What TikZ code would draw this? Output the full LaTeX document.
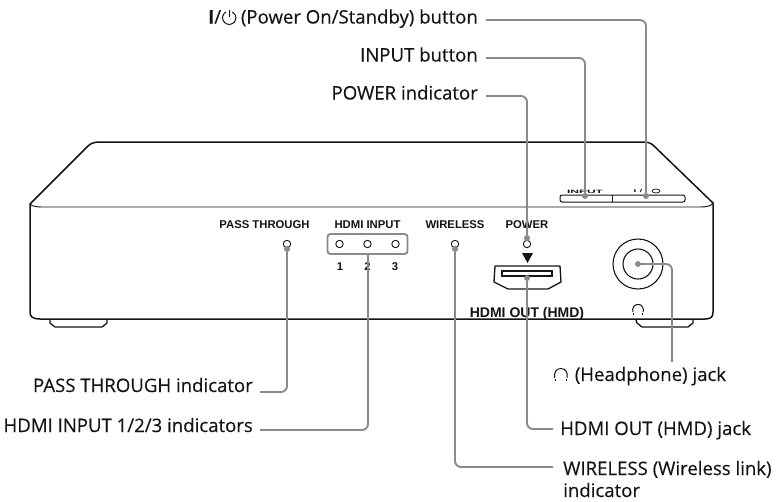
\documentclass[tikz,border=0pt]{standalone}
\usepackage{graphicx}
\usepackage{fontspec}
\setmainfont{Open Sans}
\newfontfamily\lblfont{Open Sans}[FakeBold=0.25]
\newfontfamily\devfont{Liberation Sans}[BoldFont={Liberation Sans Bold}]
\definecolor{leadc}{HTML}{8A8A8D}
\definecolor{inkc}{HTML}{141416}
\newcommand{\pwrsym}{\tikz[baseline=0pt,x=1.3pt,y=1.3pt,line width=1pt,inkc]{\draw (2.6,8.9) arc[start angle=118,delta angle=304,radius=5.1]; \draw (5,10.6)--(5,5.2);\path (-.8,0) (11.6,0);}}
\newcommand{\hpsym}[1]{\tikz[baseline=0pt,x=#1pt,y=#1pt,line width=1pt,inkc]{\draw (.8,2.6) .. controls (0,7) and (2,10.4) .. (6,10.4) .. controls (10,10.4) and (12,7) .. (11.2,2.6);\fill (.9,0) rectangle (2.1,1.8);\fill (9.9,0) rectangle (11.1,1.8);}}
\tikzset{
  lead/.style={draw=leadc,line width=1.9pt,rounded corners=6pt},
  dotc/.style={fill=leadc,circle,inner sep=0pt,minimum size=6pt},
  lbl/.style={font=\lblfont\fontsize{18.6}{22}\selectfont,text=inkc,inner sep=0pt},
  dev/.style={font=\devfont\bfseries\fontsize{11.3}{13}\selectfont,text=inkc,inner sep=0pt},
  body/.style={draw=inkc,line width=1.5pt,line join=round},
  led/.style={draw=inkc,line width=.9pt,circle,minimum size=7.4pt,inner sep=0pt,fill=white},
}
\begin{document}
\begin{tikzpicture}[x=1pt,y=-1pt]
\useasboundingbox (0,0) rectangle (783,501);
% device
\draw[body,fill=white] (30,204) -- (88,146) .. controls (91,143) and (95,142) .. (100,142) -- (643,142) .. controls (648,142) and (651,143) .. (654,146) -- (713,203) -- (713,312) .. controls (713,317) and (711,319) .. (705,319) -- (40,319) .. controls (33,319) and (30,317) .. (30,312) -- cycle;
\draw[draw=inkc,line width=.9pt] (30,204) .. controls (32,206) and (36,207) .. (42,207) -- (700,207) .. controls (707,207) and (711,206) .. (713,203);
\draw[draw=inkc,line width=1.3pt,line join=round] (50,320) -- (50,323) -- (55,327) -- (102,327) -- (107,323) -- (107,320);
\draw[draw=inkc,line width=1.3pt,line join=round] (636,320) -- (637,323) -- (642,327) -- (688,327) -- (693,323) -- (693,320);
% buttons
\draw[draw=inkc,line width=1pt,rounded corners=2pt] (560,195) rectangle (685,202);
\draw[draw=inkc,line width=1pt] (612,195) -- (612,202);
\node[dev,font=\devfont\bfseries\fontsize{12}{12}\selectfont] (tInput) at (585,191.5) {\scalebox{1}[.4]{INPUT}};
\node[dev,font=\devfont\bfseries\fontsize{10}{12}\selectfont] (tBtnI) at (638,191.5) {\scalebox{1}[.4]{I\,\,/}};
\draw[draw=inkc,line width=.7pt] (656,191) ellipse[x radius=4,y radius=2];
% device labels
\node[dev,anchor=base] (tPass) at (264.5,228) {PASS THROUGH};
\node[dev,anchor=base] (tHdmi) at (367.5,228) {HDMI INPUT};
\node[dev,anchor=base] (tWire) at (455,228) {WIRELESS};
\node[dev,anchor=base] (tPower) at (527,228) {POWER};
\node[dev,anchor=base] (tOne) at (340,270) {1};
\node[dev,anchor=base] (tTwo) at (367.5,270) {2};
\node[dev,anchor=base] (tThree) at (395,270) {3};
\node[dev,anchor=base,font=\devfont\bfseries\fontsize{14}{14}\selectfont] (tOut) at (527,317) {HDMI OUT (HMD)};
\node[inner sep=0pt,anchor=south] (tPhone) at (638,315) {\hpsym{1}};
% HDMI group box and LEDs
\node[draw=leadc,line width=1.9pt,rounded corners=3pt,minimum width=80pt,minimum height=20pt,inner sep=0pt] (gBox) at (367.5,244) {};
\node[led] (ledPass) at (287,244) {};
\node[led] (ledA) at (339.5,244) {};
\node[led] (ledB) at (367.5,244) {};
\node[led] (ledC) at (395.5,244) {};
\node[led] (ledWire) at (455,244) {};
\node[led] (ledPower) at (527,244) {};
\fill[inkc] (522,253) -- (533,253) -- (527.5,263) -- cycle;
% HDMI port
\draw[draw=inkc,line width=1.3pt,line join=round] (495,266) -- (560,266) -- (561,282) -- (548,289) -- (508,289) -- (494,282) -- cycle;
\draw[draw=inkc,line width=1.1pt] (502,271) rectangle (552,276);
% jack
\node[draw=inkc,line width=1.1pt,circle,minimum size=50pt,inner sep=0pt] (jackO) at (638,264) {};
\node[draw=inkc,line width=1.1pt,circle,minimum size=30pt,inner sep=0pt] (jackI) at (638,264) {};
% leader end dots
\node[dotc] (dPower) at (527,238) {};
\node[dotc] (dInput) at (585,196) {};
\node[dotc] (dBtn) at (646,196) {};
\node[dotc] (dPass) at (287,249) {};
\node[dotc] (dWire) at (455,249) {};
\node[dotc] (dOut) at (527,278) {};
\node[dotc] (dJack) at (638,264) {};
\coordinate (gEdge) at (368,254);
% labels
\node[lbl,anchor=base east] (lBtn) at (478,23.5) {{\bfseries I}/\pwrsym\,(Power On/Standby) button};
\node[lbl,anchor=base east] (lInput) at (478,61.5) {INPUT button};
\node[lbl,anchor=base east] (lPower) at (478,99.5) {POWER indicator};
\node[lbl,anchor=base east] (lPass) at (253,392) {PASS THROUGH indicator};
\node[lbl,anchor=base east] (lHdmi) at (253,432) {HDMI INPUT 1/2/3 indicators};
\node[lbl,anchor=base west] (lJack) at (553,381) {\hpsym{1.2}\,\,(Headphone) jack};
\node[lbl,anchor=base west] (lOut) at (560,435) {HDMI OUT (HMD) jack};
\node[lbl,anchor=base west,align=left] (lWire) at (563,497) {WIRELESS (Wireless link)\\indicator};
\coordinate (sBtn) at (486,20);
\coordinate (sInput) at (486,58);
\coordinate (sPower) at (486,96);
\coordinate (sPass) at (260,392);
\coordinate (sHdmi) at (260,430);
\coordinate (sJack) at (672,362);
\coordinate (sOut) at (553,429);
\coordinate (sWire) at (553,467);
% leaders
\draw[lead] (sBtn) -| (dBtn);
\draw[lead] (sInput) -| (dInput);
\draw[lead] (sPower) -| (dPower);
\draw[lead] (sPass) -| (dPass);
\draw[lead] (sHdmi) -| (gEdge);
\draw[lead] (dJack) -| (sJack);
\draw[lead] (sOut) -| (dOut);
\draw[lead] (sWire) -| (dWire);
\end{tikzpicture}
\end{document}
